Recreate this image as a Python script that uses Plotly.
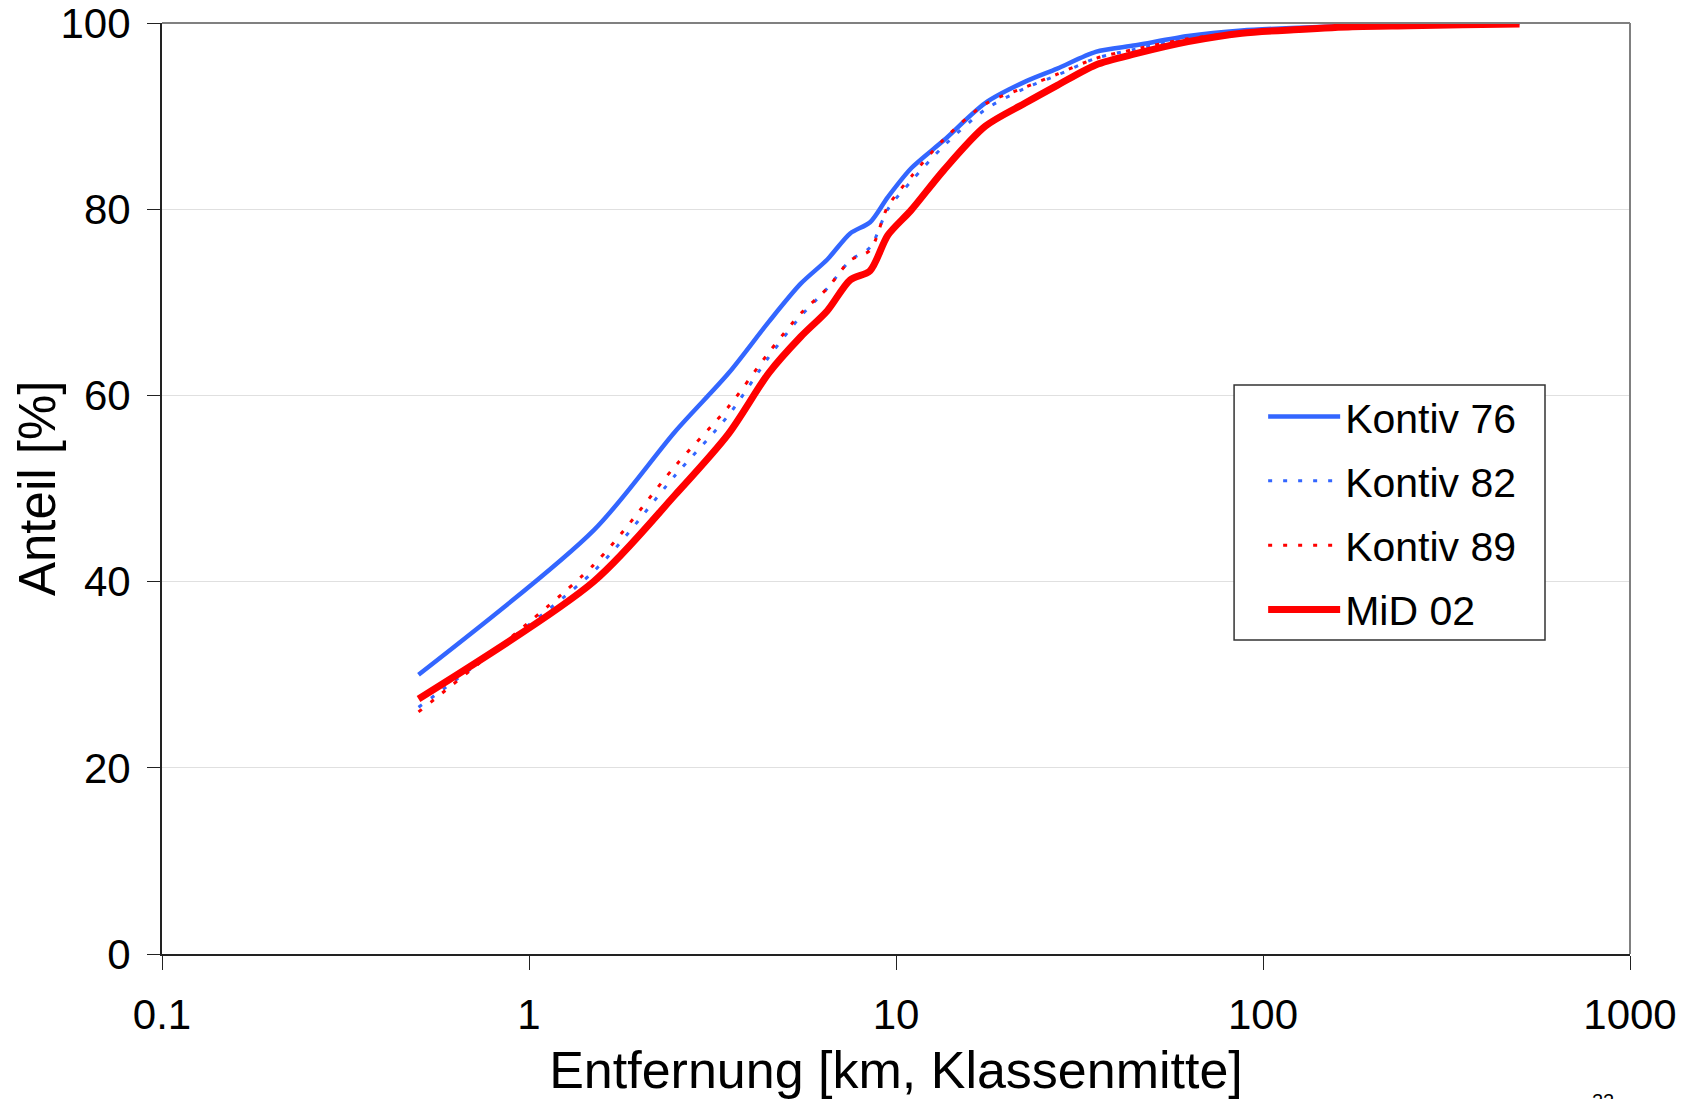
import plotly.graph_objects as go

# class midpoints of the distance bands [km]
entfernung = [0.5, 1.5, 2.5, 3.5, 4.5, 5.5, 6.5, 7.5, 8.5, 9.5, 11, 13.5, 17.5,
              22.5, 27.5, 35, 45, 62.5, 87.5, 125, 175, 250, 350, 500]

# cumulative share [%]
kontiv76 = [30.0, 45.5, 56.1, 62.4, 67.9, 72.0, 74.6, 77.4, 78.6, 81.3, 84.4, 87.4, 91.4,
            93.7, 95.1, 96.9, 97.6, 98.6, 99.2, 99.5, 99.7, 99.8, 99.9, 100.0]
kontiv82 = [26.5, 41.1, 51.4, 57.9, 64.1, 68.5, 71.5, 74.5, 75.9, 80.0, 83.0, 86.8, 90.7,
            93.0, 94.4, 96.2, 97.2, 98.3, 99.0, 99.4, 99.7, 99.8, 99.9, 100.0]
kontiv89 = [26.0, 41.8, 52.4, 58.8, 64.6, 68.8, 71.5, 74.5, 75.6, 80.3, 83.5, 87.5, 91.3,
            93.1, 94.5, 96.2, 97.2, 98.3, 99.0, 99.4, 99.7, 99.8, 99.9, 100.0]
mid02 = [27.4, 40.0, 49.3, 55.9, 62.4, 66.3, 69.1, 72.4, 73.4, 77.2, 79.9, 84.2, 88.9,
         91.4, 93.3, 95.5, 96.7, 98.0, 98.9, 99.3, 99.6, 99.7, 99.8, 99.9]

x_ticks = [0.1, 1, 10, 100, 1000]
x_ticklabels = ["0.1", "1", "10", "100", "1000"]
y_ticks = [0, 20, 40, 60, 80, 100]

FONT = "Liberation Sans, Arial, sans-serif"
BLUE = "#3366FF"
RED = "#FF0000"

series = [
    ("Kontiv 76", kontiv76, BLUE, 4.5, "solid"),
    ("Kontiv 82", kontiv82, BLUE, 3, "4px,11px"),
    ("Kontiv 89", kontiv89, RED, 3, "4px,11px"),
    ("MiD 02", mid02, RED, 7, "solid"),
]

fig = go.Figure()
for name, vals, col, w, dash in series:
    fig.add_trace(go.Scatter(
        x=entfernung, y=vals, name=name, mode="lines", legendgroup=name,
        line=dict(color=col, width=w, dash=dash, shape="spline", smoothing=0.8),
    ))

fig.update_layout(
    width=1694, height=1099,
    margin=dict(l=161.5, r=64, t=23, b=145),
    paper_bgcolor="white", plot_bgcolor="white",
    font=dict(family=FONT, size=42, color="black"),
    showlegend=True,
    legend=dict(
        x=0.7501, y=0.6129, xanchor="left", yanchor="top",
        bgcolor="rgba(0,0,0,0)", borderwidth=0,
        font=dict(family=FONT, size=41, color="black"),
        tracegroupgap=8, itemwidth=72, traceorder="grouped",
    ),
    xaxis=dict(
        type="log", range=[-1, 3], automargin=False,
        tickvals=x_ticks, ticktext=x_ticklabels, ticklabeloverflow="allow",
        ticks="outside", ticklen=14, tickwidth=1, tickcolor="#222222",
        showline=True, linecolor="#222222", linewidth=2,
        showgrid=False, zeroline=False,
        tickfont=dict(size=42), ticklabelstandoff=9,
        title=dict(text="Entfernung [km, Klassenmitte]", font=dict(size=52), standoff=14),
    ),
    yaxis=dict(
        range=[0, 100], tickvals=y_ticks, automargin=False, ticklabeloverflow="allow",
        ticks="outside", ticklen=13, tickwidth=1, tickcolor="#222222",
        showline=True, linecolor="#222222", linewidth=2,
        showgrid=True, gridcolor="#e0e0e0", gridwidth=1,
        zeroline=False,
        tickfont=dict(size=42), ticklabelstandoff=8,
    ),
    shapes=[
        dict(type="line", xref="paper", yref="paper", x0=0, x1=1, y0=1, y1=1,
             line=dict(color="#808080", width=2)),
        dict(type="line", xref="paper", yref="paper", x0=1, x1=1, y0=0, y1=1,
             line=dict(color="#808080", width=2)),
        # legend frame
        dict(type="rect", xref="paper", yref="paper", x0=0.7303, x1=0.9421,
             y0=0.3373, y1=0.6112, layer="above", fillcolor="white",
             line=dict(color="#333333", width=1.5)),
    ],
    annotations=[
        # y axis title (placed by hand: the built-in one is clamped to the page edge)
        dict(text="Anteil [%]", xref="paper", yref="paper", x=-0.0848, y=0.5,
             xanchor="center", yanchor="middle", textangle=-90, showarrow=False,
             font=dict(size=51, color="black")),
        dict(text="22", xref="paper", yref="paper", x=0.9816, y=-0.1439,
             xanchor="center", yanchor="top", showarrow=False,
             font=dict(size=20, color="black")),
    ],
)

# drop the browser's default 8px body margin so the figure sits at the page corner
fig.write_html("out.html", config={"displayModeBar": False},
               post_script="document.body.style.margin='0px';")
